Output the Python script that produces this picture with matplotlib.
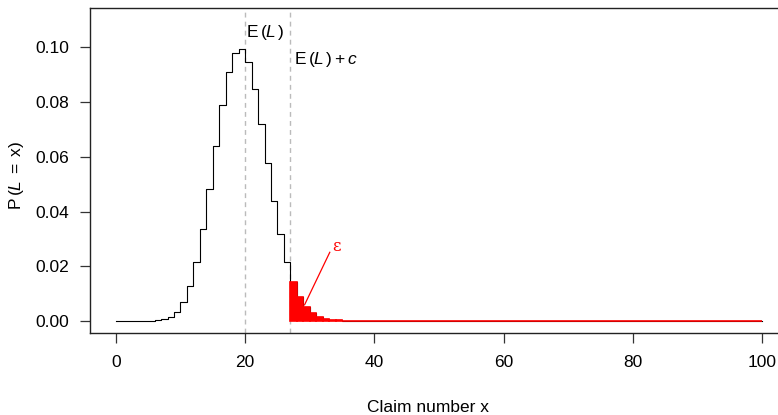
import numpy as np
import matplotlib
matplotlib.use("Agg")
import matplotlib.pyplot as plt

# ---- data ----
claims = list(range(0, 101))
prob = [
    0.0, 0.0, 0.0, 0.0, 0.000003, 0.000015, 0.000059, 0.000199, 0.000578, 0.001478,
    0.003363, 0.006878, 0.012749, 0.021577, 0.033530, 0.048057, 0.063826, 0.078850, 0.090895, 0.098074,
    0.099300, 0.094572, 0.084896, 0.071980, 0.057734, 0.043878, 0.031642, 0.021682, 0.014133, 0.008772,
    0.005190, 0.002930, 0.001579, 0.000814, 0.000401, 0.000189, 0.000085, 0.000037, 0.000015, 0.000006,
    0.000002, 0.0, 0.0, 0.0, 0.0, 0.0, 0.0, 0.0, 0.0, 0.0,
    0.0, 0.0, 0.0, 0.0, 0.0, 0.0, 0.0, 0.0, 0.0, 0.0,
    0.0, 0.0, 0.0, 0.0, 0.0, 0.0, 0.0, 0.0, 0.0, 0.0,
    0.0, 0.0, 0.0, 0.0, 0.0, 0.0, 0.0, 0.0, 0.0, 0.0,
    0.0, 0.0, 0.0, 0.0, 0.0, 0.0, 0.0, 0.0, 0.0, 0.0,
    0.0, 0.0, 0.0, 0.0, 0.0, 0.0, 0.0, 0.0, 0.0, 0.0,
    0.0,
]
mean_claims = 20
threshold = 27
x_ticks = [0, 20, 40, 60, 80, 100]
y_ticks = [0.00, 0.02, 0.04, 0.06, 0.08, 0.10]
y_tick_labels = ["0.00", "0.02", "0.04", "0.06", "0.08", "0.10"]

plt.rcParams['font.family'] = ['Liberation Sans', 'DejaVu Sans']
plt.rcParams['mathtext.fontset'] = 'custom'
plt.rcParams['mathtext.rm'] = 'Liberation Sans'
plt.rcParams['mathtext.it'] = 'Liberation Sans:italic'
plt.rcParams['mathtext.bf'] = 'Liberation Sans:bold'

W, H = 778, 415
fig = plt.figure(figsize=(W / 100, H / 100), dpi=100)
left_px, right_px, top_px, bot_px = 90, 788, 8, 333
ax = fig.add_axes([left_px / W, (H - bot_px) / H, (right_px - left_px) / W, (bot_px - top_px) / H])

x = np.array(claims)
y = np.array(prob)

ax.plot(x, y, drawstyle='steps-pre', color='black', lw=0.8, zorder=3)

mask = x > threshold
ax.bar(x[mask], y[mask], width=-1.0, align='edge', color='red', edgecolor='red', lw=1.2, zorder=4)

for v in (mean_claims, threshold):
    ax.axvline(v, color='#bbbbbb', lw=1.0, dashes=(3.5, 3), zorder=1)

ax.text(mean_claims + 0.2, 0.1055, r'$\mathrm{E}\,(\mathit{L}\,)$', fontsize=12.5, ha='left', va='center')
ax.text(threshold + 0.5, 0.0955, r'$\mathrm{E}\,(\mathit{L}\,) + \mathit{c}$', fontsize=12.5, ha='left', va='center')

ax.plot([29.2, 33.1], [0.0059, 0.0251], color='red', lw=0.9, zorder=5)
ax.text(34.1, 0.0272, 'ε', color='red', fontsize=12, family='DejaVu Serif', ha='center', va='center')

ax.set_xlim(-4, 104)
ax.set_ylim(-0.0044, 0.1144)
ax.set_xticks(x_ticks)
ax.set_xticklabels([str(t) for t in x_ticks])
ax.set_yticks(y_ticks)
ax.set_yticklabels(y_tick_labels)
ax.tick_params(direction='out', length=7, width=0.9, labelsize=12.5, color='#333333', pad=8)
ax.tick_params(axis='x', pad=9)
for s in ax.spines.values():
    s.set_linewidth(1.0)
    s.set_color('#222222')

fig.text(428 / W, 1 - 407 / H, 'Claim number x', fontsize=12.5, ha='center', va='center')
fig.text(17 / W, 1 - 176 / H, r'$\mathrm{P}\,(\mathit{L}\;=\;\mathrm{x})$', fontsize=12.5, ha='center', va='center', rotation=90)

fig.savefig('out.png', dpi=100)
